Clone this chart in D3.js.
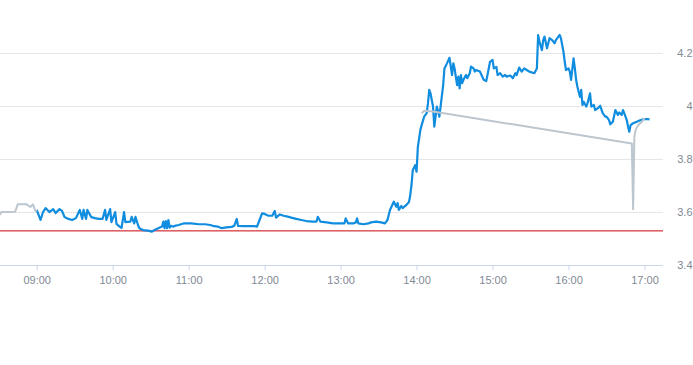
<!DOCTYPE html>
<html>
<head>
<meta charset="utf-8">
<script src="https://cdn.jsdelivr.net/npm/d3@7"></script>
<style>
  html, body { margin: 0; padding: 0; background: #ffffff; }
  svg { display: block; }
</style>
</head>
<body>
<svg id="chart" width="693" height="365"></svg>
<script>
// ---------- data ----------
const priceTimes = ["09:00","09:03","09:05","09:07","09:10","09:13","09:15","09:18","09:20","09:22","09:25","09:28","09:31","09:34","09:36","09:37","09:39","09:40","09:43","09:46","09:49","09:52","09:54","09:55","09:58","09:59","10:02","10:03","10:06","10:07","10:09","10:10","10:14","10:15","10:17","10:18","10:20","10:21","10:24","10:28","10:31","10:33","10:36","10:39","10:40","10:41","10:42","10:43","10:44","10:45","10:46","10:48","10:49","10:52","10:56","11:00","11:02","11:08","11:13","11:17","11:19","11:23","11:26","11:30","11:34","11:36","11:38","11:39","11:44","11:52","11:54","11:56","11:58","12:00","12:03","12:06","12:08","12:09","12:12","12:15","12:19","12:21","12:25","12:29","12:33","12:38","12:41","12:42","12:44","12:49","12:54","12:59","13:03","13:04","13:06","13:10","13:12","13:13","13:14","13:18","13:22","13:24","13:28","13:32","13:35","13:37","13:39","13:42","13:44","13:45","13:46","13:48","13:49","13:52","13:54","13:55","13:56","13:57","13:59","14:00","14:01","14:03","14:04","14:06","14:08","14:09","14:10","14:11","14:12","14:13","14:14","14:16","14:17","14:18","14:21","14:22","14:24","14:26","14:28","14:29","14:30","14:32","14:33","14:34","14:35","14:36","14:37","14:39","14:40","14:42","14:43","14:45","14:46","14:47","14:50","14:53","14:55","14:56","14:58","15:00","15:01","15:03","15:04","15:06","15:08","15:10","15:11","15:14","15:16","15:18","15:19","15:21","15:23","15:25","15:27","15:29","15:33","15:35","15:36","15:37","15:39","15:40","15:41","15:43","15:45","15:47","15:48","15:49","15:50","15:52","15:53","15:54","15:56","15:57","15:58","16:00","16:01","16:02","16:04","16:05","16:06","16:07","16:08","16:09","16:10","16:11","16:12","16:14","16:15","16:17","16:18","16:20","16:21","16:23","16:25","16:27","16:29","16:30","16:32","16:33","16:35","16:37","16:39","16:40","16:42","16:43","16:44","16:46","16:47","16:48","16:49","16:51","16:54","16:56","16:59","17:02","17:04"];
const priceValues = [3.609,3.571,3.601,3.616,3.601,3.612,3.597,3.612,3.605,3.582,3.575,3.571,3.578,3.609,3.575,3.609,3.575,3.609,3.582,3.578,3.575,3.575,3.609,3.571,3.612,3.563,3.601,3.556,3.544,3.541,3.601,3.563,3.565,3.583,3.558,3.583,3.552,3.54,3.533,3.531,3.527,3.533,3.54,3.546,3.565,3.54,3.567,3.54,3.571,3.542,3.549,3.546,3.549,3.552,3.558,3.558,3.558,3.555,3.555,3.552,3.549,3.546,3.54,3.543,3.545,3.549,3.575,3.549,3.548,3.548,3.546,3.571,3.596,3.594,3.587,3.587,3.605,3.58,3.592,3.587,3.583,3.58,3.575,3.571,3.567,3.565,3.565,3.583,3.565,3.562,3.558,3.558,3.558,3.577,3.558,3.558,3.562,3.577,3.558,3.555,3.558,3.562,3.565,3.562,3.558,3.571,3.609,3.64,3.621,3.635,3.609,3.624,3.616,3.628,3.639,3.665,3.703,3.76,3.778,3.753,3.846,3.911,3.929,3.961,3.974,4.011,4.062,4.049,4.024,3.999,3.923,3.999,3.98,3.961,4.08,4.143,4.162,4.183,4.118,4.162,4.143,4.08,4.112,4.068,4.118,4.087,4.1,4.118,4.106,4.125,4.15,4.143,4.131,4.137,4.131,4.1,4.095,4.118,4.168,4.175,4.143,4.149,4.118,4.125,4.112,4.118,4.112,4.116,4.106,4.125,4.118,4.146,4.131,4.143,4.137,4.131,4.125,4.143,4.269,4.244,4.212,4.25,4.263,4.219,4.257,4.25,4.244,4.238,4.25,4.263,4.269,4.257,4.206,4.168,4.137,4.143,4.131,4.1,4.181,4.143,4.1,4.074,4.055,4.036,4.062,4.005,4.017,3.999,4.011,4.049,3.999,4.005,3.986,3.992,4.002,3.974,3.961,3.961,3.948,3.932,3.942,3.986,3.967,3.977,3.967,3.986,3.974,3.948,3.923,3.904,3.929,3.936,3.942,3.946,3.951,3.952,3.951];

const extTimes  = ["08:31","08:32","08:43","08:45","08:52","08:55","08:57","08:59","09:00","09:01","14:04","14:06","14:13","16:50","16:51","16:52","16:53","16:55","16:58","17:00"];
const extValues = [3.59,3.601,3.602,3.63,3.63,3.62,3.63,3.605,3.609,null,3.974,3.983,3.98,3.86,3.612,3.885,3.911,3.929,3.942,3.955];

const refPrice = 3.53;

const yTickValues = [3.4, 3.6, 3.8, 4.0, 4.2];
const yTickLabels = ["3.4", "3.6", "3.8", "4", "4.2"];
const xTickLabels = ["09:00","10:00","11:00","12:00","13:00","14:00","15:00","16:00","17:00"];

// ---------- layout ----------
const plotLeft = 0, plotRight = 663, plotTop = 0.3, plotBottom = 265.3;

const parse = d3.timeParse("%H:%M");
const svg = d3.select("#chart");

const x = d3.scaleTime()
  .domain([parse("09:00"), parse("17:00")])
  .range([36.7, 644.5]);
const y = d3.scaleLinear()
  .domain([3.4, 4.4])
  .range([plotBottom, plotTop]);

const font = "'Liberation Sans', Arial, Helvetica, sans-serif";
const labelColor = "#7f8994";

// grid lines
svg.append("g")
  .selectAll("line")
  .data(yTickValues.filter(v => v > 3.4))
  .join("line")
  .attr("x1", plotLeft).attr("x2", plotRight)
  .attr("y1", d => Math.round(y(d)) + 0.5).attr("y2", d => Math.round(y(d)) + 0.5)
  .style("stroke", "#e6e6e6").style("stroke-width", 1);

// y labels (right side)
svg.append("g")
  .selectAll("text")
  .data(yTickValues)
  .join("text")
  .attr("x", 692.5)
  .attr("y", d => y(d))
  .attr("dy", "0.34em")
  .attr("text-anchor", "end")
  .attr("font-family", font)
  .attr("font-size", 11)
  .style("fill", labelColor)
  .text((d, i) => yTickLabels[i]);

// x axis
const xAxis = d3.axisBottom(x)
  .tickValues(xTickLabels.map(parse))
  .tickFormat((d, i) => xTickLabels[i])
  .tickSize(5)
  .tickSizeOuter(0)
  .tickPadding(6);

const gx = svg.append("g")
  .attr("transform", `translate(0,${Math.round(plotBottom) + 0.5})`)
  .call(xAxis);
gx.select(".domain").remove();
gx.selectAll(".tick line").style("stroke", "#ccd6eb");
gx.selectAll(".tick text")
  .attr("font-family", font)
  .attr("font-size", 11)
  .style("fill", labelColor);
svg.append("line")
  .attr("x1", plotLeft).attr("x2", plotRight)
  .attr("y1", Math.round(plotBottom) + 0.5).attr("y2", Math.round(plotBottom) + 0.5)
  .style("stroke", "#ccd6eb").style("stroke-width", 1);

// reference (previous close) line
svg.append("rect")
  .attr("x", plotLeft)
  .attr("y", y(refPrice) - 0.6)
  .attr("width", plotRight - plotLeft)
  .attr("height", 1.2)
  .style("fill", "#d22f33");

// series
const priceData = priceTimes.map((t, i) => ({ t: parse(t), v: priceValues[i] }));
const extData = extTimes.map((t, i) => ({ t: parse(t), v: extValues[i] }));

const line = d3.line()
  .defined(d => d.v != null)
  .x(d => x(d.t))
  .y(d => y(d.v));

svg.append("path")
  .datum(priceData)
  .attr("fill", "none")
  .style("stroke", "#118de0")
  .style("stroke-width", 2.2)
  .style("stroke-linejoin", "round")
  .attr("d", line);

svg.append("path")
  .datum(extData)
  .attr("fill", "none")
  .style("stroke", "#bcc6cf")
  .style("stroke-width", 2)
  .style("stroke-linejoin", "round")
  .attr("d", line);
</script>
</body>
</html>
